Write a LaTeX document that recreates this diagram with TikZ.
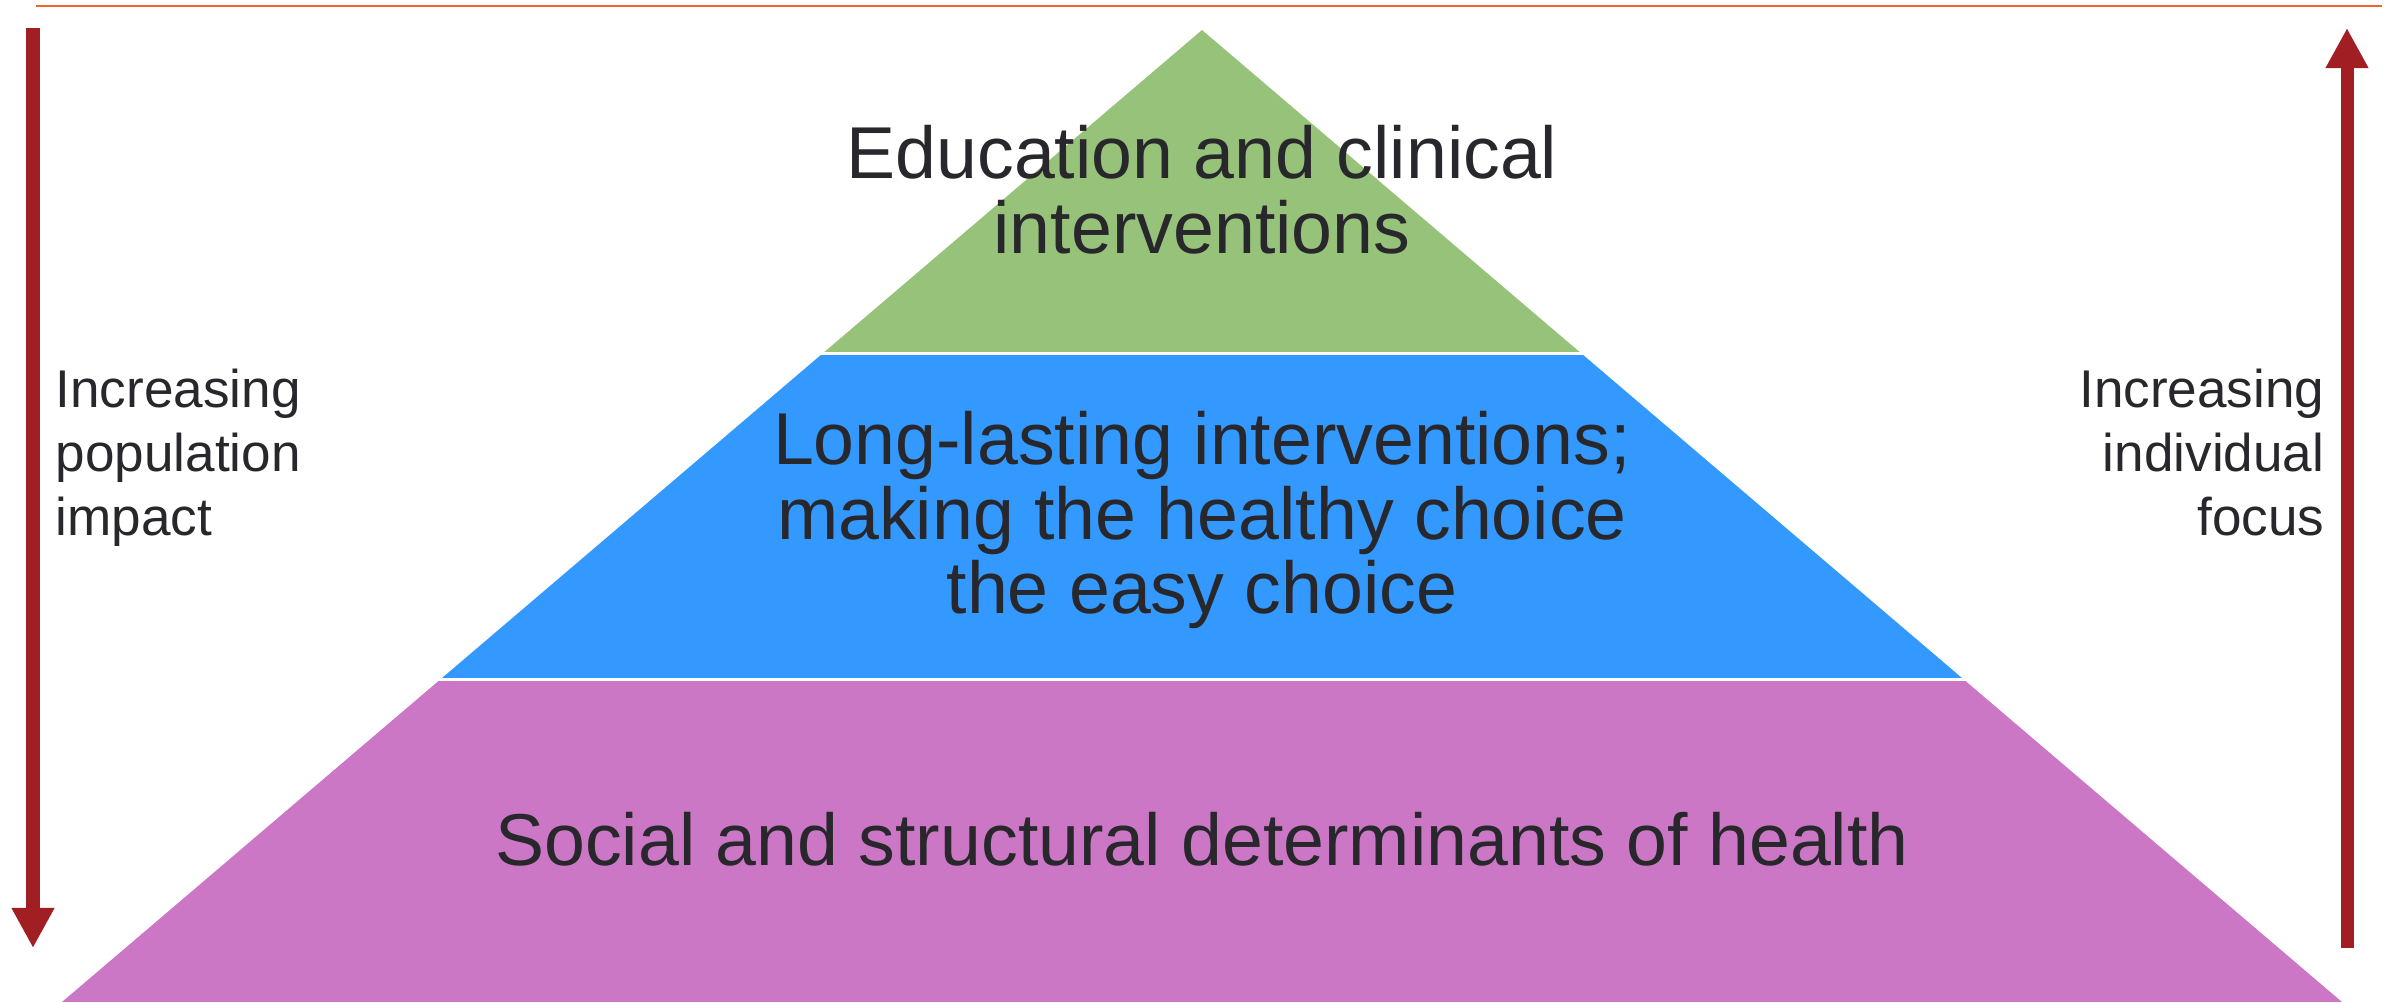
\documentclass[tikz,border=0pt]{standalone}
\usepackage{fontspec}
\setmainfont{Liberation Sans}
\usetikzlibrary{arrows.meta}

\definecolor{topgreen}{HTML}{97C27A}
\definecolor{midblue}{HTML}{3399FF}
\definecolor{basepink}{HTML}{CC77C6}
\definecolor{arrowred}{HTML}{A11E22}
\definecolor{ruleorange}{HTML}{F26430}
\definecolor{darktext}{HTML}{28282C}

\begin{document}
\begin{tikzpicture}[x=0.01cm, y=-0.01cm,
  level text/.style = {align=center, inner sep=0pt, text=darktext,
                       font=\fontsize{20.9}{21.3}\selectfont},
  side text/.style = {inner sep=0pt, text=darktext,
                      font=\fontsize{15.1}{18.2}\selectfont},
  impact arrow/.style = {line width=3.7pt, draw=arrowred,
                         -{Triangle[width=0.4cm, length=0.4cm]}}]

\useasboundingbox (0,0) rectangle (2390,1002);

% top rule
\draw[ruleorange, line width=0.75pt] (36,6) to (2382,6);

% pyramid
\coordinate (apex) at (1202,30);
\coordinate (baseL) at (62,1002);
\coordinate (baseR) at (2342,1002);
\begin{scope}
\clip (apex) -- (baseL) -- (baseR) -- cycle;
\fill[topgreen] (0,0) rectangle (2390,352);
\fill[midblue] (0,355) rectangle (2390,678);
\fill[basepink] (0,681) rectangle (2390,1002);
\end{scope}

\node[level text] (edu) at (1202,190) {Education and clinical\\interventions};
\node[level text] (lasting) at (1202,520) {Long-lasting interventions;\\making the healthy choice\\the easy choice};
\node[level text, anchor=base] (social) at (1202,865) {Social and structural determinants of health};

% side arrows
\coordinate (popTop) at (33,28);
\coordinate (popEnd) at (33,948);
\draw[impact arrow] (popTop) -- (popEnd);
\node[side text, align=left, anchor=west] (population) at (55,458) {Increasing\\population\\impact};

\coordinate (focusEnd) at (2347,948);
\coordinate (focusTop) at (2347,28);
\draw[impact arrow] (focusEnd) -- (focusTop);
\node[side text, align=right, anchor=east] (individual) at (2325,453) {Increasing\\individual\\focus};

\end{tikzpicture}
\end{document}
